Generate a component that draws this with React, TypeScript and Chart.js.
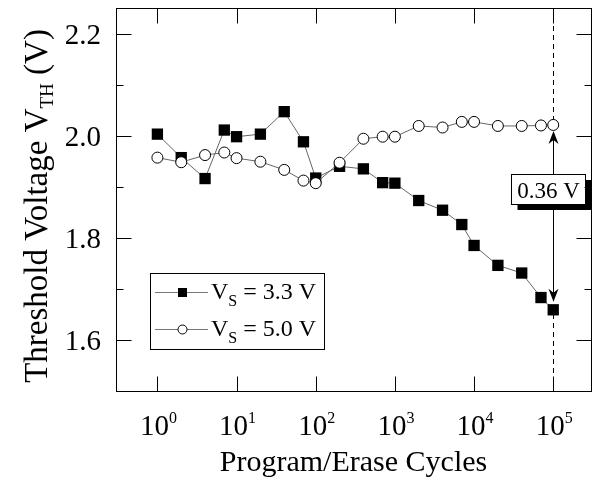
import React, { useEffect, useRef } from "react";
import { Chart, registerables } from "chart.js";

Chart.register(...registerables);

// ---- data ----
const cycles = [1, 2, 4, 7, 10, 20, 40, 70, 100, 200, 400, 700, 1000, 2000, 4000, 7000, 10000, 20000, 40000, 70000, 100000];
const vth33 = [2.003, 1.957, 1.916, 2.011, 1.998, 2.003, 2.047, 1.988, 1.917, 1.94, 1.935, 1.908, 1.907, 1.873, 1.854, 1.826, 1.785, 1.746, 1.731, 1.683, 1.659];
const vth50 = [1.957, 1.948, 1.962, 1.967, 1.956, 1.949, 1.933, 1.912, 1.907, 1.947, 1.994, 1.998, 1.998, 2.019, 2.016, 2.027, 2.027, 2.019, 2.019, 2.02, 2.021];

const xTickValues = [1, 10, 100, 1000, 10000, 100000];
const xTickBase = "10";
const xTickExponents = ["0", "1", "2", "3", "4", "5"];
const yMajorTicks = [1.6, 1.8, 2.0, 2.2];
const yTickLabels = ["1.6", "1.8", "2.0", "2.2"];
const yMinorTicks = [1.7, 1.9, 2.1];

const xTitle = "Program/Erase Cycles";
const yTitleParts = ["Threshold Voltage V", "TH", " (V)"];
const legendParts = [
  ["V", "S", " = 3.3 V"],
  ["V", "S", " = 5.0 V"],
];
const deltaLabel = "0.36 V";
const deltaAt = 100000;
const deltaTop = 2.021;
const deltaBottom = 1.659;

const FONT = "'Liberation Serif', 'Times New Roman', serif";

type Part = { t: string; size: number; dy?: number };

function richWidth(ctx: CanvasRenderingContext2D, parts: Part[]) {
  let w = 0;
  for (const p of parts) {
    ctx.font = `${p.size}px ${FONT}`;
    w += ctx.measureText(p.t).width;
  }
  return w;
}

function drawRich(ctx: CanvasRenderingContext2D, parts: Part[], x: number, y: number, align: "left" | "center" | "right") {
  const w = richWidth(ctx, parts);
  let cx = align === "left" ? x : align === "center" ? x - w / 2 : x - w;
  ctx.textAlign = "left";
  ctx.textBaseline = "alphabetic";
  for (const p of parts) {
    ctx.font = `${p.size}px ${FONT}`;
    ctx.fillText(p.t, cx, y + (p.dy || 0));
    cx += ctx.measureText(p.t).width;
  }
}

const framePlugin = {
  id: "framePlugin",
  beforeDatasetsDraw(chart: any) {
    const ctx: CanvasRenderingContext2D = chart.ctx;
    const { top, bottom } = chart.chartArea;
    const xs = chart.scales.x;
    const ys = chart.scales.y;
    const ax = Math.round(xs.getPixelForValue(deltaAt)) + 0.5;
    const yTop = ys.getPixelForValue(deltaTop);
    const yBot = ys.getPixelForValue(deltaBottom);
    ctx.save();
    ctx.strokeStyle = "#000";
    ctx.lineWidth = 1;
    ctx.setLineDash([5, 4]);
    ctx.beginPath();
    ctx.moveTo(ax, top);
    ctx.lineTo(ax, bottom);
    ctx.stroke();
    ctx.setLineDash([]);
    ctx.beginPath();
    ctx.moveTo(ax, yTop + 8);
    ctx.lineTo(ax, yBot - 10);
    ctx.stroke();
    ctx.restore();
  },
  afterDatasetsDraw(chart: any) {
    const ctx: CanvasRenderingContext2D = chart.ctx;
    const xs = chart.scales.x;
    const ys = chart.scales.y;
    const ax = Math.round(xs.getPixelForValue(deltaAt)) + 0.5;
    const yTop = ys.getPixelForValue(deltaTop);
    const yBot = ys.getPixelForValue(deltaBottom);
    ctx.save();
    ctx.fillStyle = "#000";
    const t1 = yTop + 6;
    ctx.beginPath();
    ctx.moveTo(ax, t1);
    ctx.lineTo(ax - 5, t1 + 13);
    ctx.lineTo(ax, t1 + 9);
    ctx.lineTo(ax + 5, t1 + 13);
    ctx.closePath();
    ctx.fill();
    const t2 = yBot - 8;
    ctx.beginPath();
    ctx.moveTo(ax, t2);
    ctx.lineTo(ax - 5, t2 - 13);
    ctx.lineTo(ax, t2 - 9);
    ctx.lineTo(ax + 5, t2 - 13);
    ctx.closePath();
    ctx.fill();
    const bw = 74;
    const bh = 30;
    const bx = Math.round(ax - 43) + 0.5;
    const by = Math.round(ys.getPixelForValue(1.895) - bh / 2) + 0.5;
    ctx.fillStyle = "#000";
    ctx.fillRect(bx + 6, by + 5.5, bw, bh);
    ctx.fillStyle = "#fff";
    ctx.fillRect(bx, by, bw, bh);
    ctx.strokeStyle = "#000";
    ctx.lineWidth = 1;
    ctx.strokeRect(bx, by, bw, bh);
    ctx.fillStyle = "#000";
    ctx.font = `23px ${FONT}`;
    ctx.textAlign = "center";
    ctx.textBaseline = "alphabetic";
    ctx.fillText(deltaLabel, bx + bw / 2, by + 23);
    ctx.restore();
  },
  afterDraw(chart: any) {
    const ctx: CanvasRenderingContext2D = chart.ctx;
    const { left, right, top, bottom } = chart.chartArea;
    const L = Math.round(left) + 0.5;
    const R = Math.round(right) + 0.5;
    const T = Math.round(top) + 0.5;
    const B = Math.round(bottom) + 0.5;
    const xs = chart.scales.x;
    const ys = chart.scales.y;
    ctx.save();
    ctx.strokeStyle = "#000";
    ctx.fillStyle = "#000";
    ctx.lineWidth = 1;
    ctx.strokeRect(L, T, R - L, B - T);
    const major = 15;
    const minor = 7;
    ctx.beginPath();
    yMajorTicks.forEach((v) => {
      const y = Math.round(ys.getPixelForValue(v)) + 0.5;
      ctx.moveTo(L, y);
      ctx.lineTo(L + major, y);
      ctx.moveTo(R, y);
      ctx.lineTo(R - major, y);
    });
    yMinorTicks.forEach((v) => {
      const y = Math.round(ys.getPixelForValue(v)) + 0.5;
      ctx.moveTo(L, y);
      ctx.lineTo(L + minor, y);
      ctx.moveTo(R, y);
      ctx.lineTo(R - minor, y);
    });
    xTickValues.forEach((v) => {
      const x = Math.round(xs.getPixelForValue(v)) + 0.5;
      ctx.moveTo(x, B);
      ctx.lineTo(x, B - major);
      ctx.moveTo(x, T);
      ctx.lineTo(x, T + major);
    });
    ctx.stroke();

    yMajorTicks.forEach((v, i) => {
      const y = ys.getPixelForValue(v);
      drawRich(ctx, [{ t: yTickLabels[i], size: 29 }], 101, y + 10, "right");
    });
    xTickValues.forEach((v, i) => {
      const x = xs.getPixelForValue(v);
      drawRich(
        ctx,
        [
          { t: xTickBase, size: 29 },
          { t: xTickExponents[i], size: 16, dy: -12 },
        ],
        x + 1,
        435,
        "center"
      );
    });
    drawRich(ctx, [{ t: xTitle, size: 30 }], (left + right) / 2, 471, "center");
    ctx.save();
    ctx.translate(47, 206);
    ctx.rotate(-Math.PI / 2);
    drawRich(
      ctx,
      [
        { t: yTitleParts[0], size: 33 },
        { t: yTitleParts[1], size: 19, dy: 6 },
        { t: yTitleParts[2], size: 33 },
      ],
      0,
      0,
      "center"
    );
    ctx.restore();

    const lx = 150.5, ly = 273.5, lw = 174, lh = 76;
    ctx.fillStyle = "#fff";
    ctx.fillRect(lx, ly, lw, lh);
    ctx.strokeStyle = "#000";
    ctx.strokeRect(lx, ly, lw, lh);
    const rows = [292.5, 329.5];
    rows.forEach((ry, i) => {
      ctx.strokeStyle = "#777";
      ctx.lineWidth = 1;
      ctx.beginPath();
      ctx.moveTo(155, ry);
      ctx.lineTo(208, ry);
      ctx.stroke();
      if (i === 0) {
        ctx.fillStyle = "#000";
        ctx.fillRect(178, ry - 4.5, 9, 9);
      } else {
        ctx.beginPath();
        ctx.arc(182.5, ry, 4.5, 0, Math.PI * 2);
        ctx.fillStyle = "#fff";
        ctx.fill();
        ctx.strokeStyle = "#000";
        ctx.stroke();
      }
      ctx.fillStyle = "#000";
      const p = legendParts[i];
      drawRich(
        ctx,
        [
          { t: p[0], size: 24 },
          { t: p[1], size: 16, dy: 7 },
          { t: p[2], size: 24 },
        ],
        211,
        ry + 6,
        "left"
      );
    });
    ctx.restore();
  },
};

export default function App() {
  const ref = useRef<HTMLCanvasElement | null>(null);
  useEffect(() => {
    if (!ref.current) return;
    const chart = new Chart(ref.current, {
      type: "line",
      data: {
        datasets: [
          {
            label: "VS = 3.3 V",
            data: cycles.map((c, i) => ({ x: c, y: vth33[i] })),
            borderColor: "#666",
            borderWidth: 1,
            pointStyle: "rect",
            pointRadius: 8,
            pointBackgroundColor: "#000",
            pointBorderColor: "#000",
            pointBorderWidth: 0,
            tension: 0,
            order: 1,
          },
          {
            label: "VS = 5.0 V",
            data: cycles.map((c, i) => ({ x: c, y: vth50[i] })),
            borderColor: "#666",
            borderWidth: 1,
            pointStyle: "circle",
            pointRadius: 5.5,
            pointBackgroundColor: "#fff",
            pointBorderColor: "#000",
            pointBorderWidth: 1,
            tension: 0,
            order: 0,
          },
        ],
      },
      options: {
        animation: false,
        responsive: false,
        devicePixelRatio: 1,
        layout: { padding: { left: 116, top: 7, right: 5, bottom: 91 } },
        plugins: { legend: { display: false }, tooltip: { enabled: false } },
        events: [],
        scales: {
          x: { type: "logarithmic", min: 0.3, max: 300000, display: false },
          y: { type: "linear", min: 1.5, max: 2.25, display: false },
        },
      },
      plugins: [framePlugin],
    });
    return () => chart.destroy();
  }, []);
  return (
    <div style={{ position: "absolute", left: 0, top: 0, width: 599, height: 482, background: "#fff" }}>
      <canvas ref={ref} width={599} height={482} style={{ width: 599, height: 482 }} />
    </div>
  );
}
